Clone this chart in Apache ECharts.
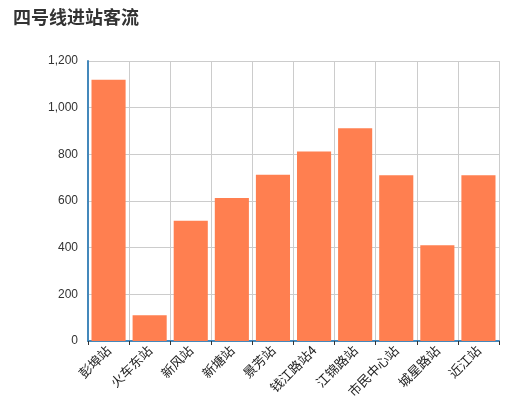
<!DOCTYPE html>
<html>
<head>
<meta charset="utf-8">
<script src="https://cdn.jsdelivr.net/npm/echarts@6/dist/echarts.min.js"></script>
<style>html,body{margin:0;padding:0;background:#fff}#c{width:532px;height:399px}</style>
</head>
<body>
<div id="c"></div>
<script>
var titleText = '四号线进站客流';
var categories = ['彭埠站','火车东站','新风站','新塘站','景芳站','钱江路站4','江锦路站','市民中心站','城星路站','近江站'];
var values = [1120, 110, 515, 613, 712, 812, 912, 710, 410, 710];
var yTicks = [0, 200, 400, 600, 800, 1000, 1200];

var chart = echarts.init(document.getElementById('c'), null, {renderer: 'canvas'});
chart.setOption({
  animation: false,
  backgroundColor: '#fff',
  title: {
    text: titleText, left: 8, top: 3,
    textStyle: {fontSize: 18, fontWeight: 'bold', color: '#333', fontFamily: '"Noto Sans CJK SC", sans-serif'}
  },
  grid: {left: 88, right: 33, top: 61, bottom: 58, containLabel: false, outerBoundsMode: 'none'},
  xAxis: {
    type: 'category', data: categories,
    axisLine: {lineStyle: {color: '#4488bb', width: 2}},
    axisTick: {show: true, alignWithLabel: false, length: 4, lineStyle: {color: '#333'}},
    splitLine: {show: true, lineStyle: {color: '#ccc', width: 1}},
    axisLabel: {rotate: 45, fontSize: 13, color: '#222', margin: 7, interval: 0,
      fontFamily: '"Noto Sans CJK SC", serif'}
  },
  yAxis: {
    type: 'value', min: yTicks[0], max: yTicks[yTicks.length - 1], interval: 200,
    axisLine: {show: true, lineStyle: {color: '#4488bb', width: 2}},
    axisTick: {show: false},
    splitLine: {show: true, lineStyle: {color: '#ccc', width: 1}},
    axisLabel: {fontSize: 12, color: '#333', margin: 10, fontFamily: 'Arial, "Liberation Sans", sans-serif',
      formatter: function (v) { return v.toString().replace(/\B(?=(\d{3})+(?!\d))/g, ','); }}
  },
  series: [{
    type: 'bar', data: values, barCategoryGap: '17%',
    itemStyle: {color: '#ff7f50'}
  }]
});
</script>
</body>
</html>
